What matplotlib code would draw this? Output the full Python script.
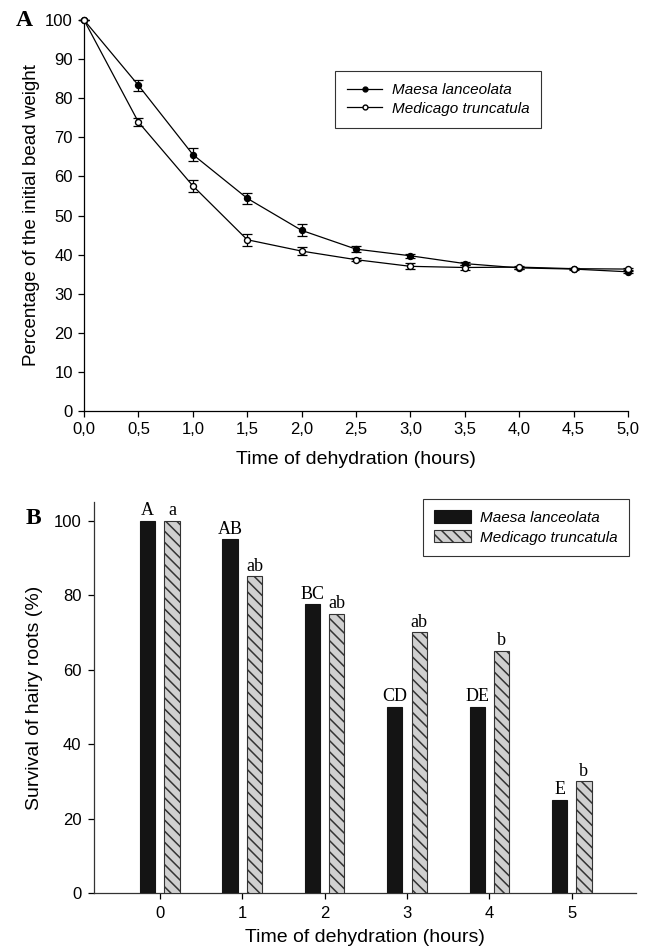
import matplotlib
matplotlib.use("Agg")
import matplotlib.pyplot as plt
from matplotlib.lines import Line2D
import numpy as np

plt.rcParams['font.family'] = ['Liberation Sans', 'DejaVu Sans']
plt.rcParams['hatch.linewidth'] = 1.1
plt.rcParams['hatch.color'] = '#333333'

# Panel A data
time_a = [0.0, 0.5, 1.0, 1.5, 2.0, 2.5, 3.0, 3.5, 4.0, 4.5, 5.0]
maesa_a = [100, 83.3, 65.6, 54.4, 46.2, 41.4, 39.7, 37.7, 36.6, 36.3, 35.6]
maesa_err = [0, 1.4, 1.6, 1.4, 1.5, 0.8, 0.5, 0.4, 0.3, 0.2, 0.3]
medic_a = [100, 73.9, 57.6, 43.8, 40.9, 38.7, 37.0, 36.7, 36.8, 36.4, 36.3]
medic_err = [0, 1.0, 1.6, 1.5, 1.0, 0.4, 0.8, 0.7, 0.4, 0.2, 0.3]
xticks_a = [0.0, 0.5, 1.0, 1.5, 2.0, 2.5, 3.0, 3.5, 4.0, 4.5, 5.0]
xticklabels_a = ['0,0', '0,5', '1,0', '1,5', '2,0', '2,5', '3,0', '3,5', '4,0', '4,5', '5,0']

# Panel B data
time_b = [0, 1, 2, 3, 4, 5]
maesa_b = [100, 95, 77.5, 50, 50, 25]
medic_b = [100, 85, 75, 70, 65, 30]
maesa_letters = ['A', 'AB', 'BC', 'CD', 'DE', 'E']
medic_letters = ['a', 'ab', 'ab', 'ab', 'b', 'b']

W, H = 653, 952
fig = plt.figure(figsize=(W / 100, H / 100), dpi=100)

# ---------- Panel A ----------
axA = fig.add_axes([84 / W, 1 - 411 / H, (628 - 84) / W, (411 - 20) / H])
axA.errorbar(time_a, maesa_a, yerr=maesa_err, color='black', lw=0.9,
             marker='o', ms=4.3, mfc='black', mec='black', capsize=3.8,
             elinewidth=0.9, capthick=0.9, zorder=3)
axA.errorbar(time_a, medic_a, yerr=medic_err, color='black', lw=0.9,
             marker='o', ms=4.3, mfc='white', mec='black', capsize=3.8,
             elinewidth=0.9, capthick=0.9, zorder=4)
axA.set_xlim(0, 5.0)
axA.set_ylim(0, 100)
axA.set_xticks(xticks_a)
axA.set_xticklabels(xticklabels_a)
axA.set_yticks(np.arange(0, 101, 10))
for s in ['top', 'right']:
    axA.spines[s].set_visible(False)
for s in ['left', 'bottom']:
    axA.spines[s].set_linewidth(0.9)
axA.tick_params(direction='out', length=4, width=0.9, labelsize=12, pad=4)
axA.set_xlabel('Time of dehydration (hours)', fontsize=14, labelpad=10)
axA.set_ylabel('Percentage of the initial bead weight', fontsize=13.5, labelpad=4)
for c in axA.collections + axA.lines:
    c.set_clip_on(False)
hA = [Line2D([], [], color='black', lw=0.9, marker='o', ms=3.5, mfc='black', mec='black'),
      Line2D([], [], color='black', lw=0.9, marker='o', ms=3.5, mfc='white', mec='black')]
legA = axA.legend(hA, ['Maesa lanceolata', 'Medicago truncatula'],
                  loc='upper left', bbox_to_anchor=((335 - 84) / 544, (411 - 71) / 391),
                  frameon=True, fancybox=False, edgecolor='black',
                  prop={'style': 'italic', 'size': 11}, handlelength=2.3,
                  borderpad=0.8, labelspacing=0.3, handletextpad=0.6,
                  borderaxespad=0)
legA.get_frame().set_linewidth(0.8)
fig.text(16 / W, 1 - 21 / H, 'A', fontsize=17, fontweight='bold',
         family='Liberation Serif', va='center', ha='left')

# ---------- Panel B ----------
axB = fig.add_axes([94 / W, 1 - 893 / H, (636 - 94) / W, (893 - 502) / H])
xb = np.array(time_b)
w = 0.185
off = 0.148
axB.bar(xb - off, maesa_b, width=w, color='#141414', edgecolor='#141414',
        linewidth=0.8, label='Maesa lanceolata', zorder=3)
axB.bar(xb + off, medic_b, width=w, color='#d0d0d0', edgecolor='#333333',
        linewidth=0.8, hatch='\\\\\\', label='Medicago truncatula', zorder=3)
for xi, v, t in zip(xb, maesa_b, maesa_letters):
    axB.text(xi - off, v + 0.4, t, ha='center', va='bottom', fontsize=13,
             family='Liberation Serif')
for xi, v, t in zip(xb, medic_b, medic_letters):
    axB.text(xi + off, v + 0.4, t, ha='center', va='bottom', fontsize=13,
             family='Liberation Serif')
axB.set_xlim(-0.8, 5.78)
axB.set_ylim(0, 105)
axB.set_xticks(time_b)
axB.set_yticks([0, 20, 40, 60, 80, 100])
for s in ['top', 'right']:
    axB.spines[s].set_visible(False)
for s in ['left', 'bottom']:
    axB.spines[s].set_linewidth(0.9)
    axB.spines[s].set_color('#333333')
axB.tick_params(direction='out', length=4, width=0.9, labelsize=12, pad=5)
axB.set_xlabel('Time of dehydration (hours)', fontsize=14, labelpad=6)
axB.set_ylabel('Survival of hairy roots (%)', fontsize=14, labelpad=8)
legB = axB.legend(loc='upper left', bbox_to_anchor=((423 - 94) / 542, (893 - 499) / 391),
                  frameon=True, fancybox=False, edgecolor='black',
                  prop={'style': 'italic', 'size': 11}, handlelength=2.4,
                  handleheight=0.85, borderpad=0.75, labelspacing=0.35,
                  handletextpad=0.6, borderaxespad=0)
legB.get_frame().set_linewidth(0.8)
fig.text(26 / W, 1 - 519 / H, 'B', fontsize=17, fontweight='bold',
         family='Liberation Serif', va='center', ha='left')

fig.savefig('out.png', dpi=100)
